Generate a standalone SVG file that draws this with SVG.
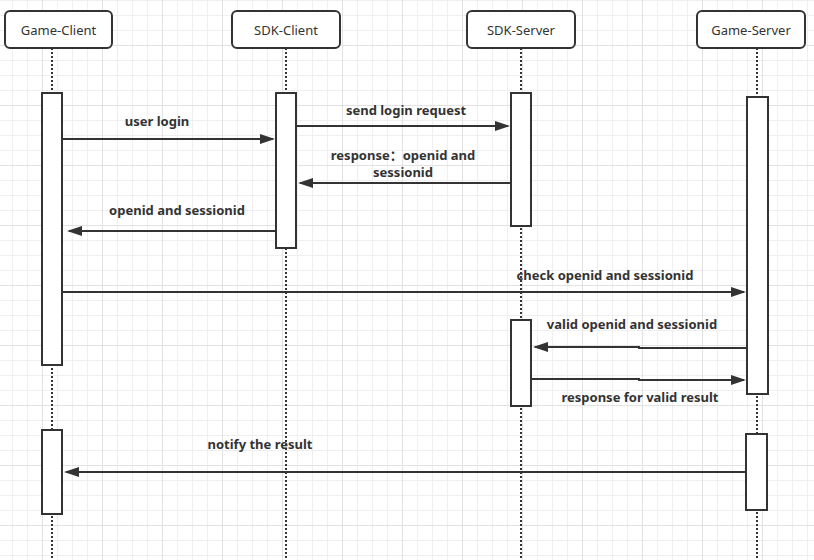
<svg xmlns="http://www.w3.org/2000/svg" width="814" height="560" viewBox="0 0 814 560">
<style>
.node rect{fill:#fff;stroke:#333;stroke-width:2}
.node text{font-family:"Noto Sans","Noto Sans CJK SC",sans-serif;font-size:13px;fill:#333;text-anchor:middle}
.life{stroke:#333;stroke-width:2;stroke-dasharray:2 2;fill:none}
.bar{fill:#fff;stroke:#333;stroke-width:2}
.msg{stroke:#333;stroke-width:2;fill:none;marker-end:url(#ah)}
.lbl{font-family:"Noto Sans","Noto Sans CJK SC",sans-serif;font-size:13px;font-weight:bold;fill:#333;text-anchor:middle}
</style>
<defs>
<pattern id="gmin" patternUnits="userSpaceOnUse" x="12" y="0" width="15" height="15">
<path d="M0.5,0 V15 M0,0.5 H15" stroke="#efefef" stroke-width="1" fill="none"/>
</pattern>
<pattern id="gmaj" patternUnits="userSpaceOnUse" x="42" y="45" width="60" height="60">
<path d="M0.5,0 V60 M0,0.5 H60" stroke="#e2e2e2" stroke-width="1" fill="none"/>
</pattern>
<marker id="ah" markerUnits="userSpaceOnUse" markerWidth="15" markerHeight="10" refX="13" refY="5" orient="auto">
<path d="M0,0 L15,5 L0,10 z" fill="#333"/>
</marker>
</defs>
<rect width="814" height="560" fill="#fff"/>
<rect width="814" height="560" fill="url(#gmin)"/>
<rect width="814" height="560" fill="url(#gmaj)"/>

<g id="lifelines">
<path class="life" d="M52,48 V560"/>
<path class="life" d="M286,48 V560"/>
<path class="life" d="M521,48 V560"/>
<path class="life" d="M757,48 V560"/>
</g>

<g id="game-client" class="node">
<rect x="5" y="11" width="107" height="37" rx="5"/>
<text x="58.5" y="34.5">Game-Client</text>
</g>
<g id="sdk-client" class="node">
<rect x="232" y="11" width="108" height="37" rx="5"/>
<text x="286" y="34.5">SDK-Client</text>
</g>
<g id="sdk-server" class="node">
<rect x="467" y="11" width="108" height="37" rx="5"/>
<text x="521" y="34.5">SDK-Server</text>
</g>
<g id="game-server" class="node">
<rect x="697" y="11" width="108" height="37" rx="5"/>
<text x="751" y="34.5">Game-Server</text>
</g>

<g id="activations">
<rect class="bar" x="42" y="93" width="20" height="272"/>
<rect class="bar" x="42" y="430" width="20" height="84"/>
<rect class="bar" x="276" y="93" width="20" height="155"/>
<rect class="bar" x="511" y="93" width="20" height="133"/>
<rect class="bar" x="511" y="320" width="20" height="86"/>
<rect class="bar" x="747" y="97" width="21" height="297"/>
<rect class="bar" x="746" y="434" width="21" height="76"/>
</g>

<g id="connectors">
<path class="msg" d="M62,139 H273"/>
<path class="msg" d="M296,126 H508"/>
<path class="msg" d="M511,183 H300"/>
<path class="msg" d="M276,231 H69"/>
<path class="msg" d="M62,292 H744"/>
<path class="msg" d="M747,348 H639 V347 H535"/>
<path class="msg" d="M531,379 H639 V380 H744"/>
<path class="msg" d="M746,472 H66"/>
</g>

<g id="labels">
<text class="lbl" x="157" y="126">user login</text>
<text class="lbl" x="406" y="115">send login request</text>
<text class="lbl" x="403" y="160">response：openid and</text>
<text class="lbl" x="403" y="177">sessionid</text>
<text class="lbl" x="177" y="215">openid and sessionid</text>
<text class="lbl" x="605" y="280">check openid and sessionid</text>
<text class="lbl" x="632" y="329">valid openid and sessionid</text>
<text class="lbl" x="640" y="402">response for valid result</text>
<text class="lbl" x="260" y="449">notify the result</text>
</g>
</svg>
